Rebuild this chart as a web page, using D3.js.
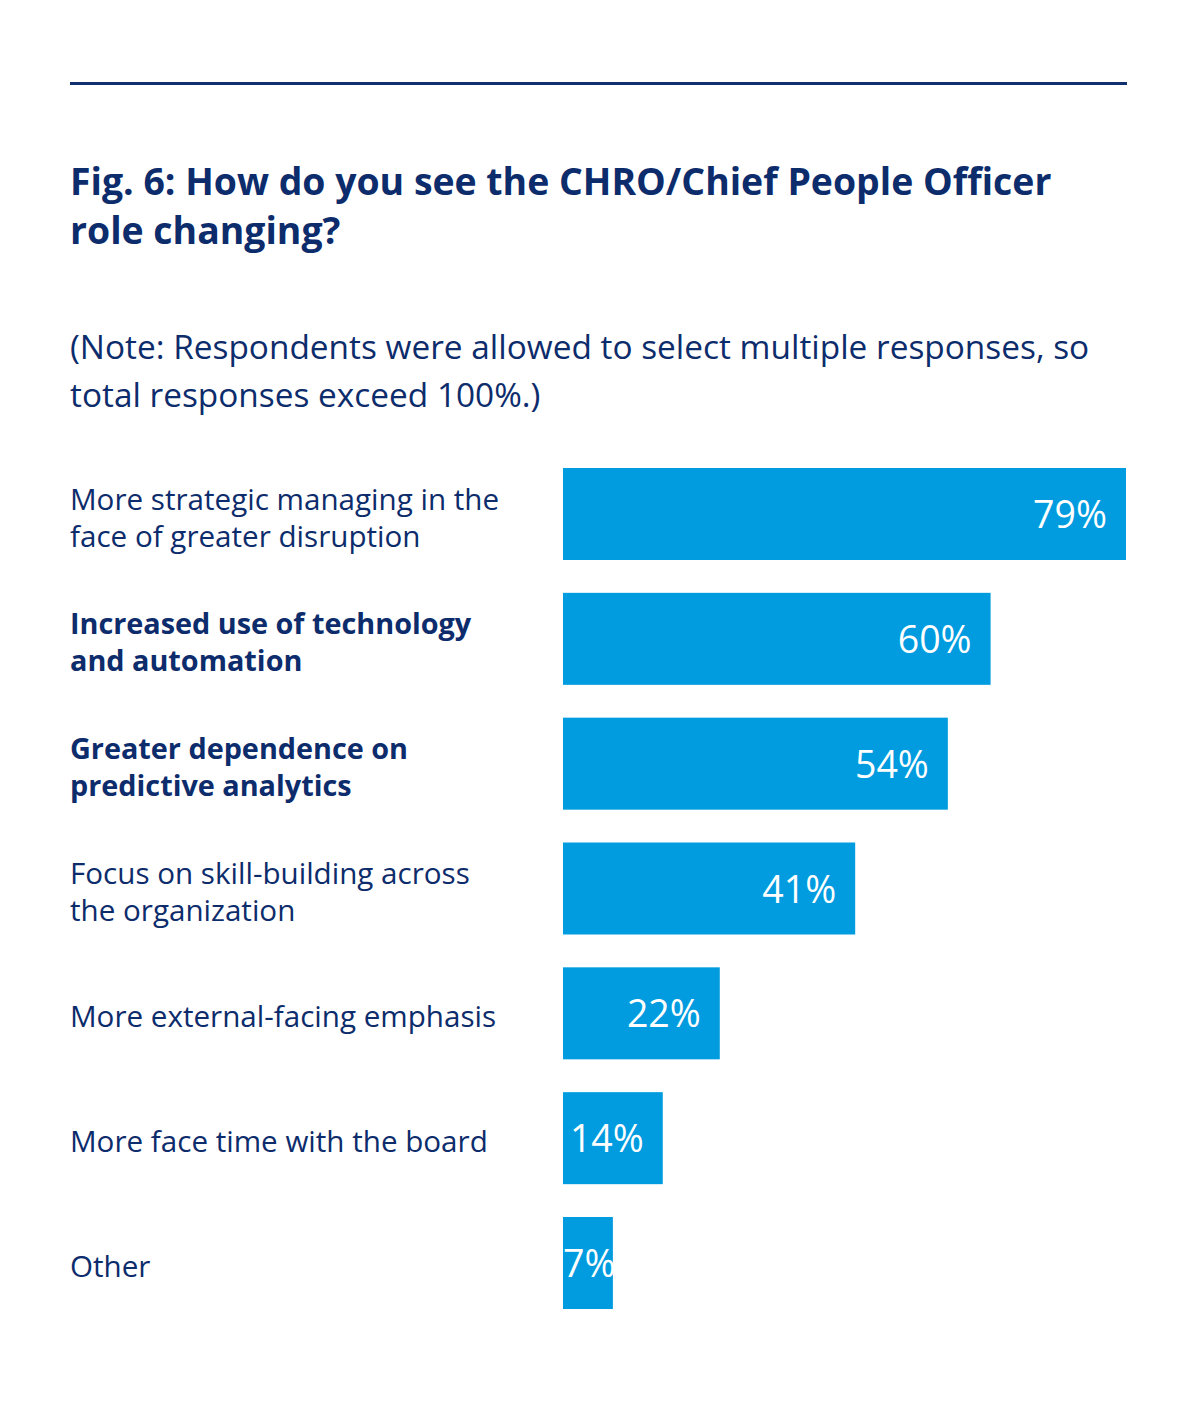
<!DOCTYPE html>
<html>
<head>
<meta charset="utf-8">
<script src="https://cdn.jsdelivr.net/npm/d3@7"></script>
<style>
  body { margin: 0; background: #fff; }
  svg text { font-family: "Open Sans", "Noto Sans", sans-serif; }
</style>
</head>
<body>
<div id="chart"></div>
<script>
var categories = [
    ["More strategic managing in the", "face of greater disruption"],
    ["Increased use of technology", "and automation"],
    ["Greater dependence on", "predictive analytics"],
    ["Focus on skill-building across", "the organization"],
    ["More external-facing emphasis"],
    ["More face time with the board"],
    ["Other"]
];
var bold_rows = [false, true, true, false, false, false, false];
var values = [79, 60, 54, 41, 22, 14, 7];

var title_lines = ["Fig. 6: How do you see the CHRO/Chief People Officer", "role changing?"];
var note_lines = ["(Note: Respondents were allowed to select multiple responses, so", "total responses exceed 100%.)"];

var width = 1200, height = 1406;
var navy = "#0d2c6c";
var blue = "#009cdf";

var svg = d3.select("#chart")
    .append("svg")
    .attr("width", width)
    .attr("height", height);

// rule on top
svg.append("rect")
    .attr("x", 70).attr("y", 82)
    .attr("width", 1057).attr("height", 3)
    .attr("fill", "#12306f");

// title
svg.append("g").selectAll("text")
    .data(title_lines)
    .enter()
    .append("text")
    .attr("x", 70)
    .attr("y", function (d, i) { return 195 + i * 49; })
    .attr("fill", navy)
    .style("font-size", "37.4px")
    .style("font-weight", "bold")
    .text(function (d) { return d; });

// note
svg.append("g").selectAll("text")
    .data(note_lines)
    .enter()
    .append("text")
    .attr("x", 70)
    .attr("y", function (d, i) { return 359 + i * 48; })
    .attr("fill", navy)
    .style("font-size", "33.4px")
    .text(function (d) { return d; });

var idx = d3.range(values.length);

var x = d3.scaleLinear()
    .domain([0, 79])
    .range([563, 1126]);

var y = d3.scaleBand()
    .domain(idx)
    .range([468, 1309])
    .paddingInner(0.263)
    .paddingOuter(0);

// bars
svg.append("g").selectAll("rect")
    .data(idx)
    .enter()
    .append("rect")
    .attr("x", x(0))
    .attr("y", function (i) { return y(i); })
    .attr("width", function (i) { return x(values[i]) - x(0); })
    .attr("height", y.bandwidth())
    .attr("fill", blue);

// category labels
var lineH = 37;
var labels = svg.append("g").selectAll("text")
    .data(idx)
    .enter()
    .append("text")
    .attr("fill", navy)
    .style("font-size", function (i) { return bold_rows[i] ? "28.8px" : "29.6px"; })
    .style("font-weight", function (i) { return bold_rows[i] ? "bold" : "normal"; });

labels.each(function (i) {
    var lines = categories[i];
    var cy = y(i) + y.bandwidth() / 2 + 2;
    var top = cy - (lines.length - 1) * lineH / 2;
    d3.select(this).selectAll("tspan")
        .data(lines)
        .enter()
        .append("tspan")
        .attr("x", 70)
        .attr("y", function (d, j) { return top + j * lineH + 12; })
        .text(function (d) { return d; });
});

// value labels inside bars
svg.append("g").selectAll("text")
    .data(idx)
    .enter()
    .append("text")
    .attr("fill", "#fff")
    .style("font-size", "37.5px")
    .attr("y", function (i) { return y(i) + y.bandwidth() / 2 + 14; })
    .text(function (i) { return values[i] + "%"; })
    .each(function (i) {
        var w = this.getComputedTextLength();
        var xEnd = x(values[i]) - 19;
        var xStart = Math.max(x(0), xEnd - w);
        d3.select(this).attr("x", xStart);
    });
</script>
</body>
</html>
